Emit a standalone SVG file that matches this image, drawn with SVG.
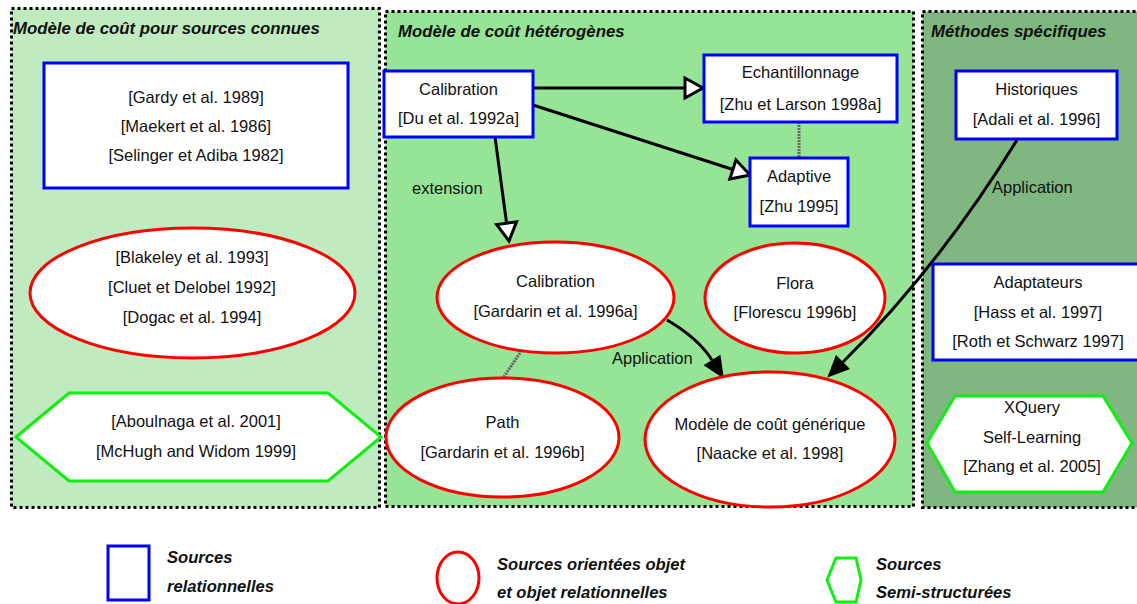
<svg xmlns="http://www.w3.org/2000/svg" width="1137" height="604" viewBox="0 0 1137 604">
  <style>
    .panel { stroke: #000; stroke-width: 3; stroke-dasharray: 3 3; }
    .title { font-family: "Liberation Sans", Arial, sans-serif; font-size: 16.8px; font-weight: bold; font-style: italic; fill: #111; }
    .lbl { font-family: "Liberation Sans", Arial, sans-serif; font-size: 16.5px; fill: #111; text-anchor: middle; }
    .elbl { font-family: "Liberation Sans", Arial, sans-serif; font-size: 16.5px; fill: #111; }
    .rel { fill: #fff; stroke: #0000ff; stroke-width: 3; }
    .obj { fill: #fff; stroke: #ff0000; stroke-width: 3; }
    .semi { fill: #fff; stroke: #11ee11; stroke-width: 3; stroke-linejoin: miter; }
    .edge { fill: none; stroke: #000; stroke-width: 3; }
    .link { fill: none; stroke: #666; stroke-width: 3; stroke-dasharray: 2 1; }
    .legend { font-family: "Liberation Sans", Arial, sans-serif; font-size: 16.6px; font-weight: bold; font-style: italic; fill: #111; }
  </style>
  <defs>
    <marker id="hollow" markerUnits="userSpaceOnUse" viewBox="-3 -13 26 26" markerWidth="26" markerHeight="26" refX="0" refY="0" orient="auto">
      <path d="M0,-10 L18,0 L0,10 z" fill="#fff" stroke="#000" stroke-width="3" stroke-linejoin="miter"/>
    </marker>
    <marker id="solid" markerUnits="userSpaceOnUse" viewBox="-2 -12 26 24" markerWidth="26" markerHeight="24" refX="0" refY="0" orient="auto">
      <path d="M0,-10 L22,0 L0,10 z" fill="#000"/>
    </marker>
  </defs>

  <rect width="1137" height="604" fill="#fff"/>

  <!-- panels -->
  <g id="panel-connues">
    <rect class="panel" x="11.5" y="8.5" width="368" height="499" fill="#c0eac0"/>
    <text class="title" x="13" y="34">Modèle de coût pour sources connues</text>
  </g>
  <g id="panel-heterogenes">
    <rect class="panel" x="385.5" y="11.5" width="528" height="495" fill="#96e496"/>
    <text class="title" x="398" y="37">Modèle de coût hétérogènes</text>
  </g>
  <g id="panel-specifiques">
    <rect class="panel" x="922.5" y="11.5" width="230" height="496" fill="#80b680"/>
    <text class="title" x="931" y="37">Méthodes spécifiques</text>
  </g>

  <!-- connectors -->
  <g id="connectors">
    <line class="link" x1="799" y1="122" x2="799" y2="158"/>
    <line class="link" x1="520" y1="353" x2="503" y2="378"/>
    <line class="edge" x1="533" y1="88" x2="685" y2="88" marker-end="url(#hollow)"/>
    <line class="edge" x1="533" y1="105" x2="732.9" y2="169.5" marker-end="url(#hollow)"/>
    <line class="edge" x1="495" y1="137" x2="506.6" y2="223.2" marker-end="url(#hollow)"/>
    <path class="edge" d="M667,320 Q698,338 712,360" marker-end="url(#solid)"/>
    <path class="edge" d="M1017,140 Q938,268 843,362" marker-end="url(#solid)"/>
    <text class="elbl" x="412" y="194">extension</text>
    <text class="elbl" x="612" y="364">Application</text>
    <text class="elbl" x="992" y="193">Application</text>
  </g>

  <!-- known sources -->
  <g id="n-relationnel">
    <rect class="rel" x="44" y="63" width="304" height="125"/>
    <text class="lbl" x="196" y="103">[Gardy et al. 1989]</text>
    <text class="lbl" x="196" y="132">[Maekert et al. 1986]</text>
    <text class="lbl" x="196" y="161">[Selinger et Adiba 1982]</text>
  </g>
  <g id="n-objet">
    <ellipse class="obj" cx="192.5" cy="293" rx="162.5" ry="65"/>
    <text class="lbl" x="192" y="263">[Blakeley et al. 1993]</text>
    <text class="lbl" x="192" y="293">[Cluet et Delobel 1992]</text>
    <text class="lbl" x="192" y="323">[Dogac et al. 1994]</text>
  </g>
  <g id="n-semi">
    <polygon class="semi" points="16,437 69,393 328,393 381,437 328,481 69,481"/>
    <text class="lbl" x="196" y="427">[Aboulnaga et al. 2001]</text>
    <text class="lbl" x="196" y="457">[McHugh and Widom 1999]</text>
  </g>

  <!-- heterogeneous models -->
  <g id="n-calibration-du">
    <rect class="rel" x="384" y="71" width="149" height="66"/>
    <text class="lbl" x="458.5" y="95">Calibration</text>
    <text class="lbl" x="458.5" y="124">[Du et al. 1992a]</text>
  </g>
  <g id="n-echantillonnage">
    <rect class="rel" x="704" y="55" width="193" height="67"/>
    <text class="lbl" x="800.5" y="78">Echantillonnage</text>
    <text class="lbl" x="800.5" y="110">[Zhu et Larson 1998a]</text>
  </g>
  <g id="n-adaptive">
    <rect class="rel" x="750" y="158" width="98" height="68"/>
    <text class="lbl" x="799" y="182">Adaptive</text>
    <text class="lbl" x="799" y="212">[Zhu 1995]</text>
  </g>
  <g id="n-calibration-gardarin">
    <ellipse class="obj" cx="555.5" cy="297.5" rx="118.5" ry="55.5"/>
    <text class="lbl" x="555.5" y="287">Calibration</text>
    <text class="lbl" x="555.5" y="317">[Gardarin et al. 1996a]</text>
  </g>
  <g id="n-flora">
    <ellipse class="obj" cx="795" cy="298" rx="90" ry="55"/>
    <text class="lbl" x="795" y="289">Flora</text>
    <text class="lbl" x="795" y="318">[Florescu 1996b]</text>
  </g>
  <g id="n-path">
    <ellipse class="obj" cx="502.5" cy="437.5" rx="116.5" ry="59.5"/>
    <text class="lbl" x="502.5" y="428">Path</text>
    <text class="lbl" x="502.5" y="458">[Gardarin et al. 1996b]</text>
  </g>
  <g id="n-generique">
    <ellipse class="obj" cx="770" cy="439.5" rx="125" ry="67.5"/>
    <text class="lbl" x="770" y="430">Modèle de coût générique</text>
    <text class="lbl" x="770" y="459">[Naacke et al. 1998]</text>
  </g>

  <!-- specific methods -->
  <g id="n-historiques">
    <rect class="rel" x="956" y="71" width="161" height="68"/>
    <text class="lbl" x="1036.5" y="95">Historiques</text>
    <text class="lbl" x="1036.5" y="125">[Adali et al. 1996]</text>
  </g>
  <g id="n-adaptateurs">
    <rect class="rel" x="933" y="264" width="210" height="96"/>
    <text class="lbl" x="1038" y="288">Adaptateurs</text>
    <text class="lbl" x="1038" y="318">[Hass et al. 1997]</text>
    <text class="lbl" x="1038" y="347">[Roth et Schwarz 1997]</text>
  </g>
  <g id="n-xquery">
    <polygon class="semi" points="927,443 955,396 1103,396 1132,443 1103,492 955,492"/>
    <text class="lbl" x="1032" y="413">XQuery</text>
    <text class="lbl" x="1032" y="443">Self-Learning</text>
    <text class="lbl" x="1032" y="472">[Zhang et al. 2005]</text>
  </g>

  <!-- legend -->
  <g id="legend">
    <rect class="rel" x="108" y="546" width="41" height="54"/>
    <text class="legend" x="167" y="563">Sources</text>
    <text class="legend" x="167" y="592">relationnelles</text>
    <ellipse class="obj" cx="458" cy="578" rx="21" ry="26"/>
    <text class="legend" x="497" y="570">Sources orientées objet</text>
    <text class="legend" x="497" y="598">et objet relationnelles</text>
    <polygon class="semi" points="827,580 836,558 856,558 861,580 856,602 836,602"/>
    <text class="legend" x="876" y="570">Sources</text>
    <text class="legend" x="876" y="598">Semi-structurées</text>
  </g>
</svg>
